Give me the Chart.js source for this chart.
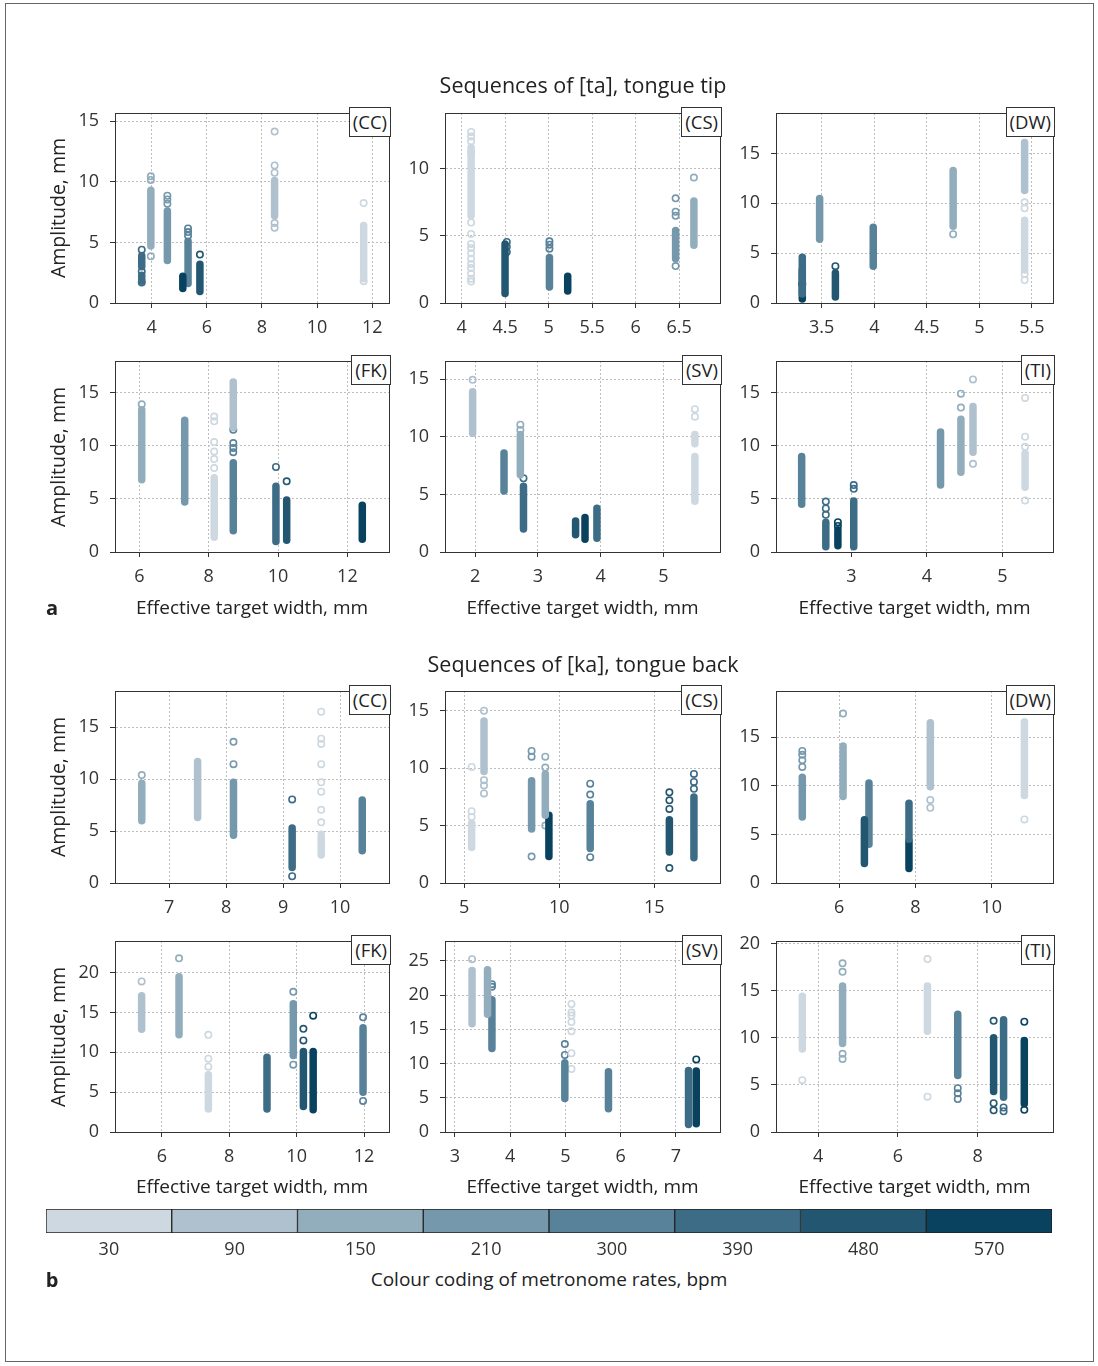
<!DOCTYPE html>
<html>
<head>
<meta charset="utf-8">
<script src="https://cdn.jsdelivr.net/npm/chart.js@4.4.1/dist/chart.umd.min.js"></script>
<style>
  body { margin: 0; background: #fff; font-family: "Open Sans", sans-serif; color: #222; }
  #page { position: relative; width: 1098px; height: 1366px; overflow: hidden; }
  #frame { position: absolute; left: 5px; top: 3px; width: 1089px; height: 1359px; border: 1px solid #666; box-sizing: border-box; }
  canvas { position: absolute; }
  .txt { position: absolute; white-space: nowrap; transform: translate(-50%, -50%); }
  .tag { position: absolute; background: #fff; border: 1px solid #333; font-size: 18.5px; line-height: 28px; padding: 0 3px; white-space: nowrap; }
</style>
</head>
<body>
<div id="page"><div id="frame"></div></div>
<script>
// metronome rates (bpm) and their colour coding
const rates = [30, 90, 150, 210, 300, 390, 480, 570];
const rateColours = ['#cdd8e0', '#afc1ce', '#92adbc', '#7598ac', '#58829a', '#3d6c86', '#235771', '#08425e'];

const speakers = ['(CC)', '(CS)', '(DW)', '(FK)', '(SV)', '(TI)'];

// dense runs of points: [width mm, rate bpm, lowest amplitude, highest amplitude]
// single points: [width mm, rate bpm, amplitude]
const taCC_runs = [[3.64,390,3.0,3.9],[3.64,390,1.8,2.3],[3.97,150,4.7,9.3],[4.57,210,3.5,7.6],[5.13,570,1.2,2.2],[5.32,300,1.6,5.1],[5.75,480,0.95,3.2],[8.46,90,7.2,10.1],[11.69,30,2.0,6.4]];
const taCC_pts = [[3.64,390,4.4],[3.64,390,2.6],[3.64,390,1.7],[3.97,150,10.45],[3.97,150,10.15],[3.97,150,3.85],[4.57,210,8.85],[4.57,210,8.55],[4.57,210,8.2],[5.32,300,6.15],[5.32,300,5.85],[5.32,300,5.55],[5.75,480,4.0],[8.46,90,14.15],[8.46,90,11.35],[8.46,90,10.75],[8.46,90,6.6],[8.46,90,6.2],[11.69,30,8.25],[11.69,30,1.8]];

const taCS_runs = [[4.11,30,6.5,11.6],[4.5,480,0.7,4.4],[5.01,300,1.2,3.4],[5.22,570,0.9,2.0],[6.46,210,3.3,5.4],[6.67,150,4.3,7.6]];
const taCS_pts = [[4.11,30,12.75],[4.11,30,12.4],[4.11,30,12.05],[4.11,30,11.2],[4.11,30,6.0],[4.11,30,5.15],[4.11,30,4.4],[4.11,30,4.1],[4.11,30,3.7],[4.11,30,3.3],[4.11,30,2.9],[4.11,30,2.6],[4.11,30,2.2],[4.11,30,1.8],[4.11,30,1.6],[4.52,390,4.55],[4.52,390,4.2],[4.52,390,3.8],[5.01,300,4.6],[5.01,300,4.35],[5.01,300,4.05],[6.46,210,7.8],[6.46,210,6.8],[6.46,210,6.5],[6.46,210,2.75],[6.67,150,9.35]];

const taDW_runs = [[3.315,390,0.9,4.6],[3.315,570,0.4,3.3],[3.48,210,6.4,10.5],[3.63,480,0.6,3.0],[3.99,300,3.7,7.6],[4.75,150,7.7,13.3],[5.43,90,11.3,16.1],[5.43,30,3.3,8.3]];
const taDW_pts = [[3.315,570,1.9],[3.63,480,3.7],[4.75,150,6.9],[5.43,30,10.1],[5.43,30,9.5],[5.43,30,2.9],[5.43,30,2.3]];

const taFK_runs = [[6.07,150,6.8,13.4],[7.31,210,4.7,12.4],[8.16,30,1.4,7.0],[8.71,90,11.7,16.0],[8.71,300,2.0,8.4],[9.94,390,1.0,6.2],[10.25,480,1.1,4.9],[12.43,570,1.2,4.4]];
const taFK_pts = [[6.07,150,13.9],[8.16,30,12.75],[8.16,30,12.3],[8.16,30,10.35],[8.16,30,9.45],[8.16,30,8.75],[8.16,30,7.9],[8.71,300,11.5],[8.71,300,10.25],[8.71,300,9.8],[8.71,300,9.4],[9.94,390,8.0],[10.25,480,6.65]];

const taSV_runs = [[1.96,90,10.3,13.9],[2.46,300,5.3,8.6],[2.72,150,6.7,10.2],[2.77,390,2.0,5.7],[3.6,480,1.5,2.7],[3.75,570,1.1,3.0],[3.94,390,1.2,3.8],[5.5,30,9.4,10.2],[5.5,30,4.4,8.3]];
const taSV_pts = [[1.96,90,14.95],[2.72,150,11.05],[2.72,150,10.6],[2.77,390,6.4],[5.5,30,12.4],[5.5,30,11.75]];

const taTI_runs = [[2.34,300,4.5,9.0],[2.66,390,0.5,2.8],[2.82,570,0.6,2.1],[3.03,390,0.5,4.8],[4.18,210,6.3,11.3],[4.45,150,7.5,12.5],[4.61,90,9.4,13.7],[5.3,30,6.1,9.3]];
const taTI_pts = [[2.66,390,4.75],[2.66,390,4.1],[2.66,390,3.5],[2.82,570,2.8],[2.82,570,2.45],[3.03,390,6.3],[3.03,390,5.95],[4.45,150,14.9],[4.45,150,13.6],[4.61,90,16.25],[4.61,90,8.3],[5.3,30,14.5],[5.3,30,10.85],[5.3,30,9.9],[5.3,30,4.85]];

const kaCC_runs = [[6.52,150,6.0,9.6],[7.5,90,6.3,11.7],[8.13,210,4.6,9.7],[9.16,390,1.5,5.3],[9.67,30,2.7,4.7],[10.39,300,3.1,8.0]];
const kaCC_pts = [[6.52,150,10.4],[8.13,210,13.6],[8.13,210,11.45],[9.16,390,8.05],[9.16,390,0.65],[9.67,30,16.5],[9.67,30,13.9],[9.67,30,13.4],[9.67,30,11.45],[9.67,30,9.7],[9.67,30,8.8],[9.67,30,7.05],[9.67,30,5.85]];

const kaCS_runs = [[5.4,30,3.1,5.2],[6.05,90,9.7,14.1],[8.55,210,4.7,8.9],[9.27,150,5.9,9.5],[9.46,570,2.3,5.9],[11.63,300,3.0,6.9],[15.79,480,2.7,5.5],[17.08,390,2.2,7.5]];
const kaCS_pts = [[5.4,30,10.1],[5.4,30,6.25],[5.4,30,5.75],[6.05,90,15.0],[6.05,90,8.95],[6.05,90,8.5],[6.05,90,7.8],[8.55,210,11.5],[8.55,210,11.0],[8.55,210,2.3],[9.27,150,11.0],[9.27,150,10.05],[9.27,150,5.0],[11.63,300,8.65],[11.63,300,7.7],[11.63,300,2.25],[15.79,480,7.9],[15.79,480,7.2],[15.79,480,6.45],[15.79,480,1.3],[17.08,390,9.5],[17.08,390,8.8],[17.08,390,8.2]];

const kaDW_runs = [[5.03,210,6.8,10.9],[6.1,150,8.9,14.1],[6.66,480,2.0,6.5],[6.78,300,4.0,10.3],[7.83,390,4.5,8.2],[7.83,570,1.5,4.3],[8.39,90,9.9,16.5],[10.86,30,9.0,16.6]];
const kaDW_pts = [[5.03,210,13.6],[5.03,210,13.2],[5.03,210,12.65],[5.03,210,11.95],[6.1,150,17.45],[8.39,90,8.55],[8.39,90,7.75],[10.86,30,6.55]];

const kaFK_runs = [[5.4,90,12.9,17.1],[6.51,150,12.2,19.5],[7.38,30,2.9,7.2],[9.12,390,2.9,9.4],[9.9,210,9.6,16.1],[10.2,480,3.2,10.1],[10.49,570,2.8,10.1],[11.97,300,5.0,13.1]];
const kaFK_pts = [[5.4,90,18.9],[6.51,150,21.8],[7.38,30,12.2],[7.38,30,9.2],[7.38,30,8.2],[9.9,210,17.6],[9.9,210,8.45],[10.2,480,12.95],[10.2,480,11.5],[10.49,570,14.6],[11.97,300,14.4],[11.97,300,3.9]];

const kaSV_runs = [[3.31,90,15.8,23.6],[3.59,150,17.2,23.7],[3.67,300,12.2,19.3],[4.99,300,4.9,10.1],[5.78,300,3.4,8.8],[7.23,390,1.1,9.0],[7.37,570,1.2,8.9]];
const kaSV_pts = [[3.31,90,25.25],[3.67,300,21.6],[3.67,300,21.2],[4.99,300,12.85],[4.99,300,11.25],[5.11,30,18.7],[5.11,30,17.45],[5.11,30,17.0],[5.11,30,16.05],[5.11,30,14.7],[5.11,30,11.5],[5.11,30,9.2],[7.37,570,10.6]];

const kaTI_runs = [[3.6,30,8.8,14.4],[4.61,150,9.4,15.5],[6.74,30,10.7,15.5],[7.5,300,6.0,12.5],[8.4,480,4.3,10.0],[8.65,390,3.7,11.9],[9.17,570,3.0,9.7]];
const kaTI_pts = [[3.6,30,5.5],[4.61,150,17.9],[4.61,150,17.0],[4.61,150,8.3],[4.61,150,7.75],[6.74,30,18.35],[6.74,30,3.75],[7.5,300,4.65],[7.5,300,4.1],[7.5,300,3.5],[8.4,480,11.8],[8.4,480,3.05],[8.4,480,2.3],[8.65,390,2.6],[8.65,390,2.2],[9.17,570,11.7],[9.17,570,2.35]];

// axis ticks and ranges per panel (ta panels first, then ka)
const xTicks = [[4,6,8,10,12],[4,4.5,5,5.5,6,6.5],[3.5,4,4.5,5,5.5],[6,8,10,12],[2,3,4,5],[3,4,5],
                [7,8,9,10],[5,10,15],[6,8,10],[6,8,10,12],[3,4,5,6,7],[4,6,8]];
const xRanges = [[2.67,12.61],[3.81,6.97],[3.065,5.70],[5.30,13.2],[1.52,5.90],[2.0,5.67],
                 [6.05,10.86],[4.0,18.45],[4.34,11.61],[4.61,12.74],[2.82,7.8],[2.94,9.89]];
const yTicks = [[0,5,10,15],[0,5,10],[0,5,10,15],[0,5,10,15],[0,5,10,15],[0,5,10,15],
                [0,5,10,15],[0,5,10,15],[0,5,10,15],[0,5,10,15,20],[0,5,10,15,20,25],[0,5,10,15,20]];
const yMax = [15.68,14.16,19.07,17.98,16.58,17.98,18.5,16.72,19.77,23.98,27.9,20.27];

const runSets = [taCC_runs, taCS_runs, taDW_runs, taFK_runs, taSV_runs, taTI_runs,
                 kaCC_runs, kaCS_runs, kaDW_runs, kaFK_runs, kaSV_runs, kaTI_runs];
const ptSets = [taCC_pts, taCS_pts, taDW_pts, taFK_pts, taSV_pts, taTI_pts,
                kaCC_pts, kaCS_pts, kaDW_pts, kaFK_pts, kaSV_pts, kaTI_pts];

// layout of plot areas in the page
const colLeft = [115, 445, 776], colRight = [389, 720, 1053];
const rowTop = [113, 361, 691, 941], rowBottom = [303, 552, 883, 1132];

const page = document.getElementById('page');
Chart.defaults.font.family = 'Open Sans';
Chart.defaults.color = '#333';

function colourOf(rate) { return rateColours[rates.indexOf(rate)]; }

function addText(txt, x, y, size, extra) {
  const d = document.createElement('div');
  d.className = 'txt';
  d.textContent = txt;
  d.style.left = x + 'px';
  d.style.top = y + 'px';
  d.style.fontSize = size + 'px';
  if (extra) Object.assign(d.style, extra);
  page.appendChild(d);
}

// closes the plot box on top and right
const frameBox = {
  id: 'frameBox',
  afterDraw(chart) {
    const a = chart.chartArea, ctx = chart.ctx;
    ctx.save();
    ctx.strokeStyle = '#333';
    ctx.lineWidth = 1;
    ctx.strokeRect(Math.round(a.left) + 0.5, Math.round(a.top) + 0.5, Math.round(a.right - a.left), Math.round(a.bottom - a.top));
    ctx.restore();
  }
};

function makePanel(i) {
  const col = i % 3, row = Math.floor(i / 3);
  const L = colLeft[col], R = colRight[col], T = rowTop[row], B = rowBottom[row];
  const padL = 70, padT = 30, padR = 22, padB = 45;
  const cv = document.createElement('canvas');
  cv.width = R - L + padL + padR;
  cv.height = B - T + padT + padB;
  cv.style.left = (L - padL) + 'px';
  cv.style.top = (T - padT) + 'px';
  page.appendChild(cv);

  const datasets = [];
  runSets[i].forEach(r => {
    datasets.push({
      type: 'line',
      data: [{x: r[0], y: r[2]}, {x: r[0], y: r[3]}],
      borderColor: colourOf(r[1]),
      borderWidth: 7.5,
      borderCapStyle: 'round',
      pointRadius: 0,
      clip: 0
    });
  });
  rates.forEach(rate => {
    const d = ptSets[i].filter(q => q[1] === rate).map(q => ({x: q[0], y: q[2]}));
    if (d.length) {
      datasets.push({
        type: 'scatter',
        data: d,
        borderColor: colourOf(rate),
        backgroundColor: 'rgba(255,255,255,0)',
        pointRadius: 3.2,
        borderWidth: 1.6,
        clip: 0
      });
    }
  });

  new Chart(cv.getContext('2d'), {
    type: 'scatter',
    data: { datasets },
    plugins: [frameBox],
    options: {
      responsive: false,
      animation: false,
      events: [],
      layout: { padding: { top: padT, right: padR, left: 0, bottom: 0 } },
      plugins: { legend: { display: false }, tooltip: { enabled: false } },
      scales: {
        x: {
          type: 'linear', min: xRanges[i][0], max: xRanges[i][1],
          afterBuildTicks: s => { s.ticks = xTicks[i].map(v => ({ value: v })); },
          afterFit: s => { s.height = padB; },
          ticks: { callback: v => String(v), font: { size: 18 }, color: '#333', padding: 9, maxRotation: 0, autoSkip: false },
          grid: { color: '#bdbdbd', lineWidth: 1, tickColor: '#333', tickLength: 5 },
          border: { color: '#333', dash: [2, 2] }
        },
        y: {
          type: 'linear', min: 0, max: yMax[i],
          afterBuildTicks: s => { s.ticks = yTicks[i].map(v => ({ value: v })); },
          afterFit: s => { s.width = padL; },
          ticks: { callback: v => String(v), font: { size: 18 }, color: '#333', padding: 11, autoSkip: false },
          grid: { color: '#bdbdbd', lineWidth: 1, tickColor: '#333', tickLength: 5 },
          border: { color: '#333', dash: [2, 2] }
        }
      }
    }
  });

  const tag = document.createElement('div');
  tag.className = 'tag';
  tag.textContent = speakers[i % 6];
  tag.style.right = (1098 - R - 2) + 'px';
  tag.style.top = (T - 6) + 'px';
  page.appendChild(tag);
}

for (let i = 0; i < 12; i++) makePanel(i);

// titles and axis labels
addText('Sequences of [ta], tongue tip', 583, 84, 21.5);
addText('Sequences of [ka], tongue back', 583, 663, 21.5);
rowTop.forEach((t, r) => {
  addText('Amplitude, mm', 57, (t + rowBottom[r]) / 2, 19.5, { transform: 'translate(-50%, -50%) rotate(-90deg)' });
});
[607, 1186].forEach(y => {
  colLeft.forEach((l, c) => addText('Effective target width, mm', (l + colRight[c]) / 2, y, 19));
});
addText('a', 52, 607, 20, { fontWeight: 'bold' });
addText('b', 52, 1279, 20, { fontWeight: 'bold' });
addText('Colour coding of metronome rates, bpm', 549, 1279, 19);

// colour bar
const cb = document.createElement('canvas');
cb.width = 1026; cb.height = 74;
cb.style.left = '36px'; cb.style.top = '1199px';
page.appendChild(cb);
new Chart(cb.getContext('2d'), {
  type: 'bar',
  data: {
    labels: rates.map(String),
    datasets: [{
      data: rates.map(() => 1),
      backgroundColor: rateColours,
      borderColor: '#222',
      borderWidth: 1,
      borderSkipped: false,
      barPercentage: 1,
      categoryPercentage: 1
    }]
  },
  options: {
    responsive: false,
    animation: false,
    events: [],
    layout: { padding: { top: 10, left: 10, right: 10, bottom: 0 } },
    plugins: { legend: { display: false }, tooltip: { enabled: false } },
    scales: {
      x: {
        afterFit: s => { s.height = 40; },
        ticks: { font: { size: 18 }, color: '#333', padding: 6 },
        grid: { display: false, drawTicks: false },
        border: { display: false }
      },
      y: { display: false, min: 0, max: 1 }
    }
  }
});
</script>
</body>
</html>
